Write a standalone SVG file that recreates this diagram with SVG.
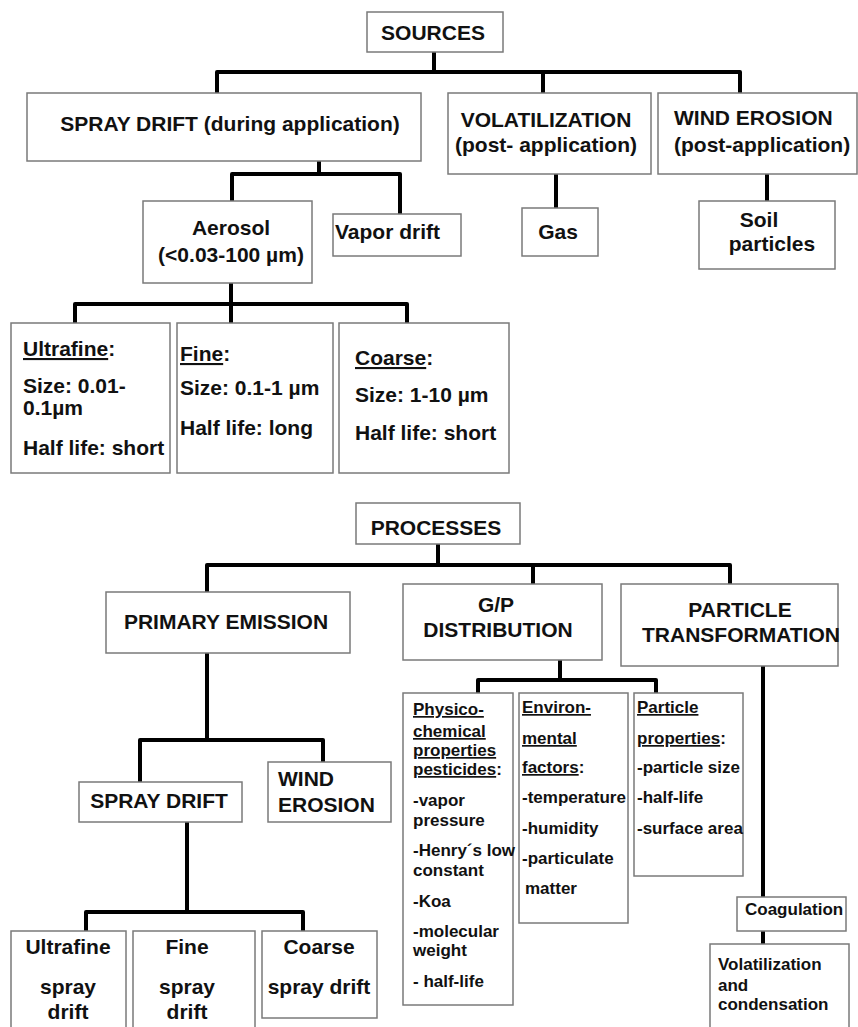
<svg xmlns="http://www.w3.org/2000/svg" width="858" height="1027" viewBox="0 0 858 1027">
<style>
.box{fill:#fff;stroke:#7a7a7a;stroke-width:1.5}
.conn{fill:none;stroke:#000;stroke-width:4;stroke-linejoin:round}
text{font-family:"Liberation Sans",Arial,sans-serif;font-weight:bold;font-size:21px;fill:#111}
.s{font-size:17px}
.m{text-anchor:middle}
.u{text-decoration:underline}
</style>
<rect width="858" height="1027" fill="#fff"/>
<g id="connectors">
<path class="conn" d="M434,52 V72 M217,93 V72 H740 V93 M543,72 V93"/>
<path class="conn" d="M319,161 V174 M232,201 V174 H400 V214"/>
<path class="conn" d="M556,174 V208"/>
<path class="conn" d="M767,174 V201"/>
<path class="conn" d="M231,283 V304 M75,323 V304 H407 V323 M231,304 V323"/>
<path class="conn" d="M438,544 V565 M207,592 V565 H730 V584 M533,565 V584"/>
<path class="conn" d="M560,660 V680 M478,693 V680 H656 V693"/>
<path class="conn" d="M763,666 V897 M763,931 V944"/>
<path class="conn" d="M207,653 V740 M140,782 V740 H323 V762"/>
<path class="conn" d="M187,822 V912 M86,931 V912 H303 V931"/>
</g>
<g id="sources"><rect class="box" x="367" y="12" width="136" height="40"/><text class="m" x="433" y="40">SOURCES</text></g>
<g id="spray-drift-app"><rect class="box" x="27" y="93" width="394" height="68"/><text class="m" x="230" y="131">SPRAY DRIFT (during application)</text></g>
<g id="volatilization"><rect class="box" x="448" y="93" width="203" height="81"/><text class="m" x="546" y="127">VOLATILIZATION</text><text class="m" x="546" y="152">(post- application)</text></g>
<g id="wind-erosion-post"><rect class="box" x="658" y="93" width="199" height="81"/><text x="674" y="125">WIND EROSION</text><text x="674" y="152">(post-application)</text></g>
<g id="aerosol"><rect class="box" x="143" y="201" width="169" height="82"/><text class="m" x="231" y="235">Aerosol</text><text class="m" x="231" y="262">(&lt;0.03-100 µm)</text></g>
<g id="vapor-drift"><rect class="box" x="333" y="214" width="128" height="42"/><text x="335" y="239">Vapor drift</text></g>
<g id="gas"><rect class="box" x="522" y="208" width="76" height="48"/><text class="m" x="558" y="239">Gas</text></g>
<g id="soil-particles"><rect class="box" x="699" y="201" width="136" height="68"/><text class="m" x="759" y="227">Soil</text><text class="m" x="772" y="251">particles</text></g>
<g id="ultrafine"><rect class="box" x="11" y="323" width="159" height="150"/><text x="23" y="356"><tspan class="u">Ultrafine</tspan>:</text><text x="23" y="393">Size: 0.01-</text><text x="23" y="415">0.1µm</text><text x="23" y="455">Half life: short</text></g>
<g id="fine"><rect class="box" x="177" y="323" width="156" height="150"/><text x="180" y="361"><tspan class="u">Fine</tspan>:</text><text x="180" y="395">Size: 0.1-1 µm</text><text x="180" y="435">Half life: long</text></g>
<g id="coarse"><rect class="box" x="339" y="323" width="170" height="150"/><text x="355" y="365"><tspan class="u">Coarse</tspan>:</text><text x="355" y="402">Size: 1-10 µm</text><text x="355" y="440">Half life: short</text></g>
<g id="processes"><rect class="box" x="356" y="503" width="164" height="41"/><text class="m" x="436" y="535">PROCESSES</text></g>
<g id="primary-emission"><rect class="box" x="106" y="592" width="244" height="61"/><text class="m" x="226" y="629">PRIMARY EMISSION</text></g>
<g id="gp-distribution"><rect class="box" x="403" y="584" width="199" height="76"/><text class="m" x="496" y="612">G/P</text><text class="m" x="498" y="637">DISTRIBUTION</text></g>
<g id="particle-transformation"><rect class="box" x="621" y="584" width="217" height="82"/><text class="m" x="740" y="617">PARTICLE</text><text class="m" x="741" y="642">TRANSFORMATION</text></g>
<g id="physico"><rect class="box" x="403" y="693" width="110" height="312"/>
<text class="s" x="413" y="715"><tspan class="u">Physico-</tspan></text>
<text class="s" x="413" y="737"><tspan class="u">chemical</tspan></text>
<text class="s" x="413" y="756"><tspan class="u">properties</tspan></text>
<text class="s" x="413" y="775"><tspan class="u">pesticides</tspan>:</text>
<text class="s" x="413" y="806">-vapor</text>
<text class="s" x="413" y="826">pressure</text>
<text class="s" x="413" y="856">-Henry´s low</text>
<text class="s" x="413" y="876">constant</text>
<text class="s" x="413" y="907">-Koa</text>
<text class="s" x="413" y="937">-molecular</text>
<text class="s" x="413" y="956">weight</text>
<text class="s" x="413" y="987">- half-life</text></g>
<g id="environmental"><rect class="box" x="519" y="693" width="109" height="230"/>
<text class="s" x="522" y="713"><tspan class="u">Environ-</tspan></text>
<text class="s" x="522" y="744"><tspan class="u">mental</tspan></text>
<text class="s" x="522" y="773"><tspan class="u">factors</tspan>:</text>
<text class="s" x="522" y="803">-temperature</text>
<text class="s" x="522" y="834">-humidity</text>
<text class="s" x="522" y="864">-particulate</text>
<text class="s" x="525" y="894">matter</text></g>
<g id="particle-properties"><rect class="box" x="634" y="693" width="109" height="183"/>
<text class="s" x="637" y="713"><tspan class="u">Particle</tspan></text>
<text class="s" x="637" y="744"><tspan class="u">properties</tspan>:</text>
<text class="s" x="637" y="773">-particle size</text>
<text class="s" x="637" y="803">-half-life</text>
<text class="s" x="637" y="834">-surface area</text></g>
<g id="coagulation"><rect class="box" x="737" y="897" width="109" height="34"/><text class="s" x="745" y="915">Coagulation</text></g>
<g id="volatilization-condensation"><rect class="box" x="710" y="944" width="139" height="90"/><text class="s" x="718" y="970">Volatilization</text><text class="s" x="718" y="991">and</text><text class="s" x="718" y="1010">condensation</text></g>
<g id="spray-drift"><rect class="box" x="79" y="782" width="163" height="40"/><text class="m" x="159" y="808">SPRAY DRIFT</text></g>
<g id="wind-erosion"><rect class="box" x="268" y="762" width="123" height="60"/><text x="278" y="786">WIND</text><text x="278" y="812">EROSION</text></g>
<g id="ultrafine-spray"><rect class="box" x="11" y="931" width="115" height="100"/><text class="m" x="68" y="954">Ultrafine</text><text class="m" x="68" y="994">spray</text><text class="m" x="68" y="1019">drift</text></g>
<g id="fine-spray"><rect class="box" x="133" y="931" width="122" height="100"/><text class="m" x="187" y="954">Fine</text><text class="m" x="187" y="994">spray</text><text class="m" x="187" y="1019">drift</text></g>
<g id="coarse-spray"><rect class="box" x="262" y="931" width="115" height="87"/><text class="m" x="319" y="954">Coarse</text><text class="m" x="319" y="994">spray drift</text></g>
</svg>
